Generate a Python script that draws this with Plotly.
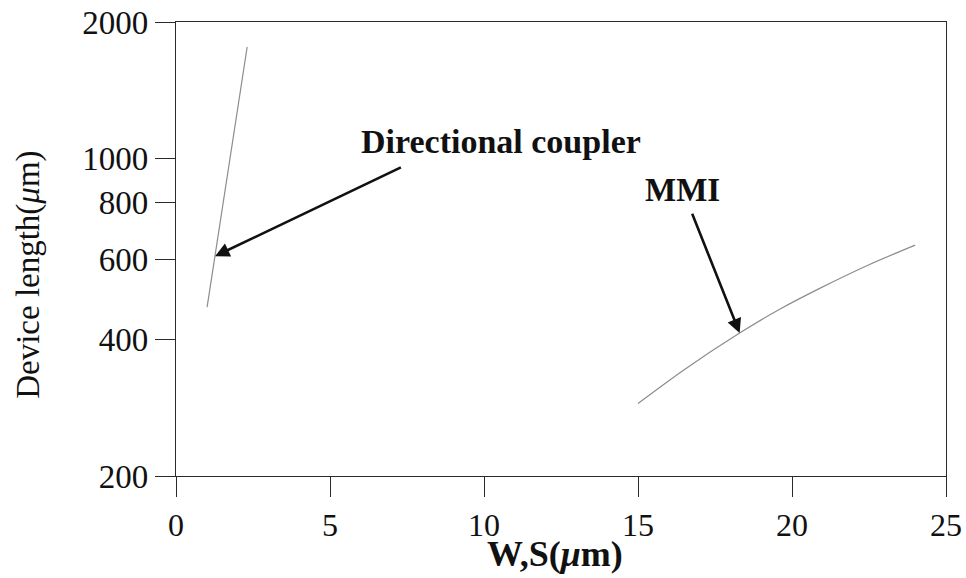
import math
import plotly.graph_objects as go

# Directional coupler: device length vs. gap S (um)
dc_gap = [1.01, 1.6, 2.31]
dc_length = [471, 860, 1762]

# MMI coupler: device length vs. width W (um)
mmi_width = [15.0, 16.5, 18.3, 19.6, 20.9, 22.5, 24.0]
mmi_length = [289, 343, 413, 466, 518, 584, 645]

x_ticks = [0, 5, 10, 15, 20, 25]
y_ticks = [200, 400, 600, 800, 1000, 2000]

FONT = "Liberation Serif"
CURVE = "#8c8c8c"
AXIS = "#2a2a2a"
INK = "#111111"

fig = go.Figure()
fig.add_trace(go.Scatter(x=dc_gap, y=dc_length, mode="lines",
                         line=dict(color=CURVE, width=1.2), showlegend=False))
fig.add_trace(go.Scatter(x=mmi_width, y=mmi_length, mode="lines",
                         line=dict(color=CURVE, width=1.2, shape="spline", smoothing=0.8),
                         showlegend=False))

lg = math.log10

# Curve labels
fig.add_annotation(x=10.55, y=lg(1090), xref="x", yref="y", text="<b>Directional coupler</b>",
                   showarrow=False, font=dict(family=FONT, size=34, color=INK))
fig.add_annotation(x=16.45, y=lg(853), xref="x", yref="y", text="<b>MMI</b>",
                   showarrow=False, font=dict(family=FONT, size=33, color=INK))

# Arrows pointing at each curve
fig.add_annotation(x=1.27, y=lg(610), ax=7.35, ay=lg(960), xref="x", yref="y",
                   axref="x", ayref="y", text="", showarrow=True, arrowhead=2,
                   arrowsize=1.1, arrowwidth=2.6, arrowcolor=INK, standoff=0)
fig.add_annotation(x=18.3, y=lg(413), ax=16.74, ay=lg(762), xref="x", yref="y",
                   axref="x", ayref="y", text="", showarrow=True, arrowhead=2,
                   arrowsize=1.1, arrowwidth=2.6, arrowcolor=INK, standoff=0)

# Axis titles
fig.add_annotation(x=0.492, y=-0.172, xref="paper", yref="paper",
                   xanchor="center", yanchor="middle",
                   text="<b>W,S(<i>μ</i>m)</b>", showarrow=False,
                   font=dict(family=FONT, size=36, color=INK))
fig.add_annotation(x=-0.191, y=0.443, xref="paper", yref="paper", textangle=-90,
                   xanchor="center", yanchor="middle",
                   text="Device length(<i>μ</i>m)", showarrow=False,
                   font=dict(family=FONT, size=33, color=INK))

fig.update_xaxes(range=[0, 25], tickvals=x_ticks, ticks="outside", ticklen=20,
                 tickwidth=1.2, tickcolor=AXIS, showline=True, linecolor=AXIS,
                 linewidth=1.3, mirror=True, showgrid=False, zeroline=False,
                 tickfont=dict(family=FONT, size=32, color=INK))
fig.update_yaxes(type="log", range=[lg(200), lg(2000)], tickvals=y_ticks,
                 ticktext=[str(v) for v in y_ticks], ticks="outside", ticklen=20,
                 tickwidth=1.2, tickcolor=AXIS, showline=True, linecolor=AXIS,
                 linewidth=1.3, mirror=True, showgrid=False, zeroline=False,
                 tickfont=dict(family=FONT, size=33, color=INK))

fig.update_layout(width=966, height=578,
                  margin=dict(l=176, r=20, t=22, b=102, autoexpand=False),
                  paper_bgcolor="white", plot_bgcolor="white",
                  font=dict(family=FONT))

fig.write_html("out.html")
